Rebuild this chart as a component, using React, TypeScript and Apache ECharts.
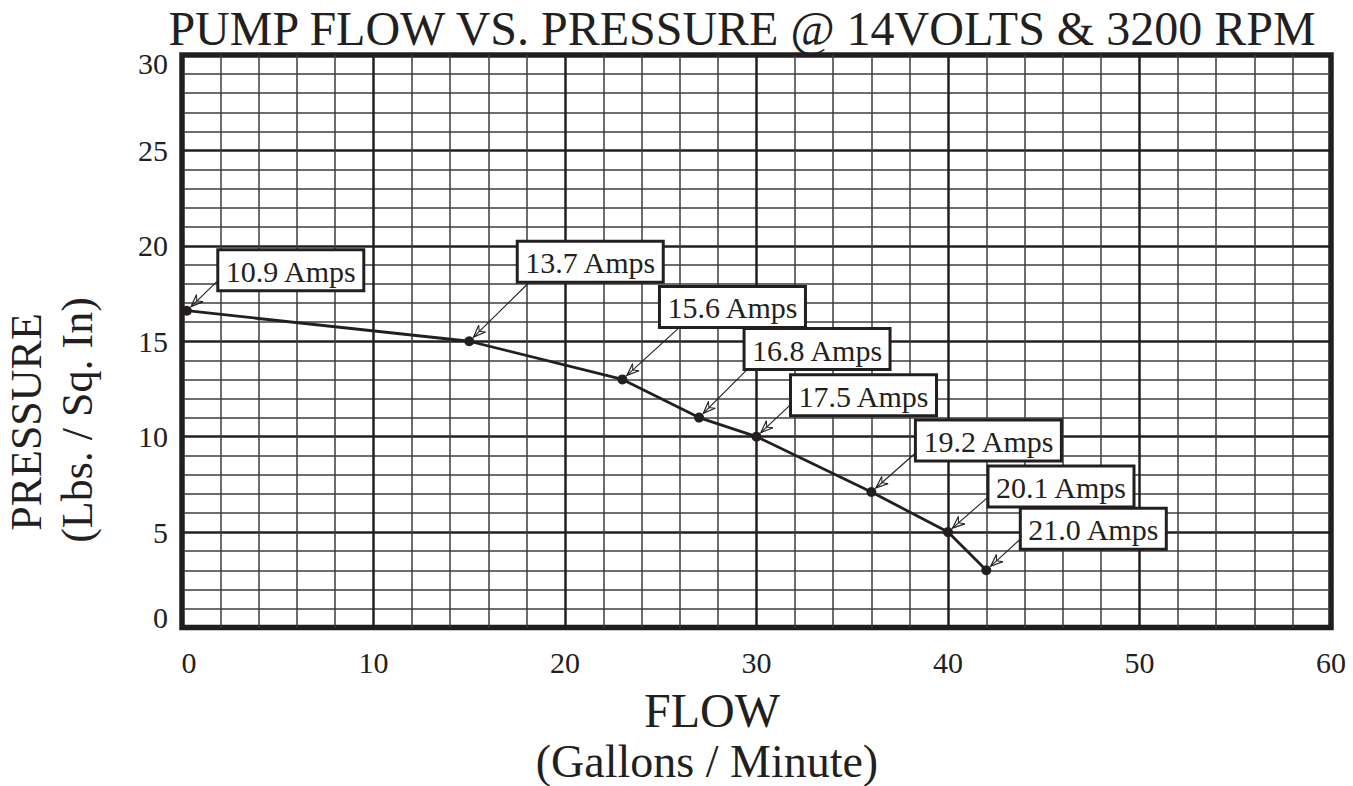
import React, { useEffect, useRef } from "react";
import * as echarts from "echarts";

// ---- data ----
const flow = [0.25, 15, 23, 27, 30, 36, 40, 42];
const pressure = [16.6, 15, 13, 11, 10, 7.1, 5, 3];
const amps = [
  "10.9 Amps",
  "13.7 Amps",
  "15.6 Amps",
  "16.8 Amps",
  "17.5 Amps",
  "19.2 Amps",
  "20.1 Amps",
  "21.0 Amps",
];
const xTicks = [0, 10, 20, 30, 40, 50, 60];
const yTicks = [0, 5, 10, 15, 20, 25, 30];

// ---- callout placement (pixel offsets from each point) ----
const boxDx = [31, 48, 37, 45, 34, 44, 40, 34];
const boxDy = [-61, -100, -93, -89, -62, -72, -66, -62];
const arrowDx = [30, 59, 57, 47, 33, 43, 40, 34];
const arrowDy = [-29, -58, -52, -47, -31, -38, -35, -31];

const INK = "#231f20";
const FONT = '"Liberation Serif", "Times New Roman", serif';

export default function App() {
  const ref = useRef<HTMLDivElement>(null);
  useEffect(() => {
    if (!ref.current) return;
    const chart = echarts.init(ref.current, null, { renderer: "svg" });
    const lineData = flow.map((x, i) => [x, pressure[i]]);
    const calloutData = flow.map((x, i) => [x, pressure[i], i]);
    const tickFont = { fontFamily: FONT, fontSize: 30, color: INK };
    const xMin = xTicks[0];
    const yMin = yTicks[0];
    const yMax = yTicks[yTicks.length - 1];
    const bigText = (text: string, x: number, y: number, size: number, rot = 0) => ({
      type: "text",
      x,
      y,
      rotation: rot,
      style: {
        text,
        align: "center",
        verticalAlign: "middle",
        fontFamily: FONT,
        fontSize: size,
        lineHeight: 38,
        fill: INK,
      },
    });
    chart.setOption({
      animation: false,
      backgroundColor: "#ffffff",
      grid: {
        left: 182,
        top: 55,
        width: 1149,
        height: 572.5,
        show: true,
        borderColor: INK,
        borderWidth: 5.5,
        backgroundColor: "transparent",
      },
      xAxis: {
        type: "value",
        min: xMin,
        max: xTicks[xTicks.length - 1],
        interval: 10,
        axisLine: { show: false },
        axisTick: { show: false },
        axisLabel: {
          ...tickFont,
          margin: 20,
          formatter: (v: number) => (v === xMin ? `{lo|${v}}` : `{n|${v}}`),
          rich: {
            lo: { ...tickFont, padding: [0, 0, 0, 14] },
            n: { ...tickFont },
          },
        },
        splitLine: { show: true, lineStyle: { color: INK, width: 2.5 } },
        minorTick: { show: false, splitNumber: 5 },
        minorSplitLine: { show: true, lineStyle: { color: "#3c3c3c", width: 1.5 } },
      },
      yAxis: {
        type: "value",
        min: yMin,
        max: yMax,
        interval: 5,
        axisLine: { show: false },
        axisTick: { show: false },
        axisLabel: {
          ...tickFont,
          margin: 14,
          formatter: (v: number) =>
            v === yMax ? `{hi|${v}}` : v === yMin ? `{lo|${v}}` : `{n|${v}}`,
          rich: {
            hi: { ...tickFont, padding: [16, 0, 0, 0] },
            lo: { ...tickFont, padding: [0, 0, 20, 0] },
            n: { ...tickFont },
          },
        },
        splitLine: { show: true, lineStyle: { color: INK, width: 2.5 } },
        minorTick: { show: false, splitNumber: 5 },
        minorSplitLine: { show: true, lineStyle: { color: "#3c3c3c", width: 1.5 } },
      },
      graphic: [
        {
          type: "text",
          x: 742,
          y: 28,
          style: {
            text: "PUMP FLOW VS. PRESSURE @ 14VOLTS & 3200 RPM",
            align: "center",
            verticalAlign: "middle",
            fontFamily: FONT,
            fontSize: 48,
            fill: INK,
          },
        },
        bigText("FLOW", 712, 710, 48),
        bigText("(Gallons / Minute)", 707, 761, 46),
        bigText("PRESSURE", 26, 422, 44, Math.PI / 2),
        bigText("(Lbs. / Sq. In)", 77, 420, 44, Math.PI / 2),
      ],
      series: [
        {
          type: "line",
          data: lineData,
          symbol: "circle",
          symbolSize: 10,
          lineStyle: { color: INK, width: 2.8 },
          itemStyle: { color: INK },
          z: 3,
          clip: false,
        },
        {
          type: "custom",
          data: calloutData,
          z: 4,
          clip: false,
          renderItem: (params: any, api: any) => {
            const i = api.value(2);
            const p = api.coord([api.value(0), api.value(1)]);
            const sx = p[0] + arrowDx[i];
            const sy = p[1] + arrowDy[i];
            const dx = sx - p[0];
            const dy = sy - p[1];
            const len = Math.hypot(dx, dy);
            const ux = dx / len;
            const uy = dy / len;
            const tx = p[0] + ux * 6;
            const ty = p[1] + uy * 6;
            const ang = Math.atan2(uy, ux);
            const hl = 13;
            const sp = 0.38;
            const h1 = [tx + hl * Math.cos(ang + sp), ty + hl * Math.sin(ang + sp)];
            const h2 = [tx + hl * Math.cos(ang - sp), ty + hl * Math.sin(ang - sp)];
            const hm = [tx + 8 * ux, ty + 8 * uy];
            const bx = p[0] + boxDx[i];
            const by = p[1] + boxDy[i];
            const bw = 146;
            const bh = 41;
            return {
              type: "group",
              children: [
                {
                  type: "line",
                  shape: { x1: sx, y1: sy, x2: tx, y2: ty },
                  style: { stroke: INK, lineWidth: 1.1 },
                },
                {
                  type: "polyline",
                  shape: { points: [h1, [tx, ty], h2] },
                  style: { stroke: INK, fill: "none", lineWidth: 1.2 },
                },
                {
                  type: "polyline",
                  shape: { points: [h1, hm, h2] },
                  style: { stroke: INK, fill: "none", lineWidth: 1 },
                },
                {
                  type: "rect",
                  shape: { x: bx, y: by, width: bw, height: bh },
                  style: { fill: "#ffffff", stroke: INK, lineWidth: 3 },
                },
                {
                  type: "text",
                  style: {
                    text: amps[i],
                    x: bx + bw / 2,
                    y: by + bh / 2 + 1,
                    align: "center",
                    verticalAlign: "middle",
                    fontFamily: FONT,
                    fontSize: 30,
                    fill: INK,
                  },
                },
              ],
            };
          },
        },
      ],
    });
    return () => chart.dispose();
  }, []);
  return (
    <div
      ref={ref}
      style={{ position: "fixed", left: 0, top: 0, width: 1353, height: 786, background: "#fff" }}
    />
  );
}
